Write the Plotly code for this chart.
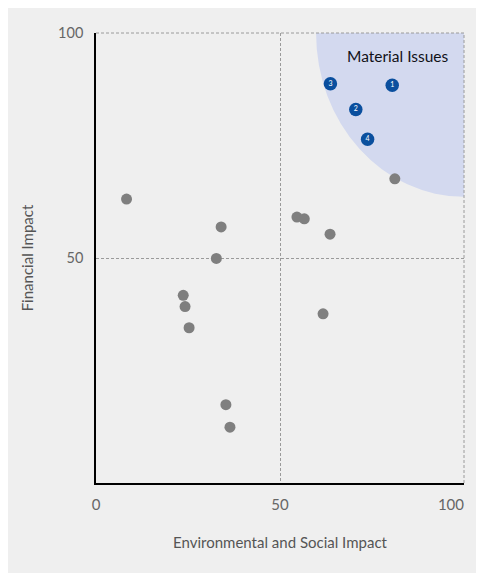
import plotly.graph_objects as go

# Other issues (gray)
other_x = [8.3, 34.0, 32.7, 23.7, 24.2, 25.3, 35.3, 36.4, 54.6, 56.6, 63.6, 61.7, 81.2]
other_y = [63.1, 56.9, 49.9, 41.7, 39.2, 34.5, 17.4, 12.4, 59.1, 58.7, 55.3, 37.6, 67.6]

# Material issues (blue, numbered)
mat_labels = ["1", "2", "3", "4"]
mat_x = [80.5, 70.6, 63.7, 73.8]
mat_y = [88.4, 83.0, 88.7, 76.4]

x_tick_vals = [0, 50]
x_tick_text = ["0", "50"]
x_end_tick_vals = [100]
x_end_tick_text = ["100"]
y_tick_vals = [50, 100]
y_tick_text = ["50", "100"]

FONT = "Lato"

fig = go.Figure()
fig.add_trace(go.Scatter(
    x=other_x, y=other_y, mode="markers",
    marker=dict(size=11, color="#7f7f7f", line=dict(width=0)),
    hoverinfo="skip", showlegend=False, cliponaxis=False,
))
fig.add_trace(go.Scatter(
    x=mat_x, y=mat_y, mode="markers+text", text=mat_labels,
    textposition="middle center",
    textfont=dict(family=FONT, size=7, color="white"),
    marker=dict(size=13.5, color="#0a4f9e", line=dict(width=0)),
    hoverinfo="skip", showlegend=False, cliponaxis=False,
))
# carrier trace for the end-of-axis tick label axis
fig.add_trace(go.Scatter(x=[None], y=[None], xaxis="x2", mode="markers",
                         hoverinfo="skip", showlegend=False))

# Material zone: quarter-ellipse anchored at the top-right corner
fig.add_shape(type="circle", xref="x", yref="y",
              x0=100 - 40.2, x1=100 + 40.2, y0=100 - 36.4, y1=100 + 36.4,
              fillcolor="#d3d9ef", line=dict(width=0), layer="below")

# dashed top and right frame lines
dash_line = dict(color="#9a9a9a", width=1, dash="3px,2px")
fig.add_shape(type="line", xref="paper", yref="paper", x0=0, x1=1, y0=1, y1=1,
              line=dash_line, layer="above")
fig.add_shape(type="line", xref="paper", yref="paper", x0=1, x1=1, y0=0, y1=1,
              line=dash_line, layer="above")

fig.add_annotation(x=0.965, y=0.949, xref="paper", yref="paper",
                   text="Material Issues", showarrow=False,
                   xanchor="right", yanchor="middle",
                   font=dict(family=FONT, size=15.5, color="#111118"))

axis_common = dict(
    range=[0, 100], showline=True, linecolor="#000000",
    linewidth=1.5, mirror=False, showgrid=True, gridcolor="#9a9a9a",
    gridwidth=1, griddash="3px,2px", zeroline=False, ticks="",
    tickfont=dict(family=FONT, size=15, color="#666666"),
    title_font=dict(family=FONT, size=15, color="#555555"),
    fixedrange=True, automargin=False,
)

fig.update_layout(
    width=484, height=573,
    margin=dict(l=88, r=28, t=25, b=98),
    paper_bgcolor="#efefef", plot_bgcolor="#efefef",
    xaxis=dict(axis_common, tickvals=x_tick_vals, ticktext=x_tick_text,
               title=dict(text="Environmental and Social Impact", standoff=26),
               ticklabelstandoff=7),
    xaxis2=dict(range=[0, 100], overlaying="x", side="bottom", anchor="y",
                showline=False, showgrid=False, zeroline=False, ticks="",
                tickvals=x_end_tick_vals, ticktext=x_end_tick_text,
                ticklabelposition="outside left", ticklabelstandoff=11,
                tickfont=dict(family=FONT, size=15, color="#666666"),
                fixedrange=True, automargin=False),
    yaxis=dict(axis_common, tickvals=y_tick_vals, ticktext=y_tick_text,
               tickfont=dict(family=FONT, size=14.5, color="#666666"),
               title=dict(text="Financial Impact", standoff=21),
               ticklabelstandoff=8),
    showlegend=False,
)

fig.write_html("out.html")
